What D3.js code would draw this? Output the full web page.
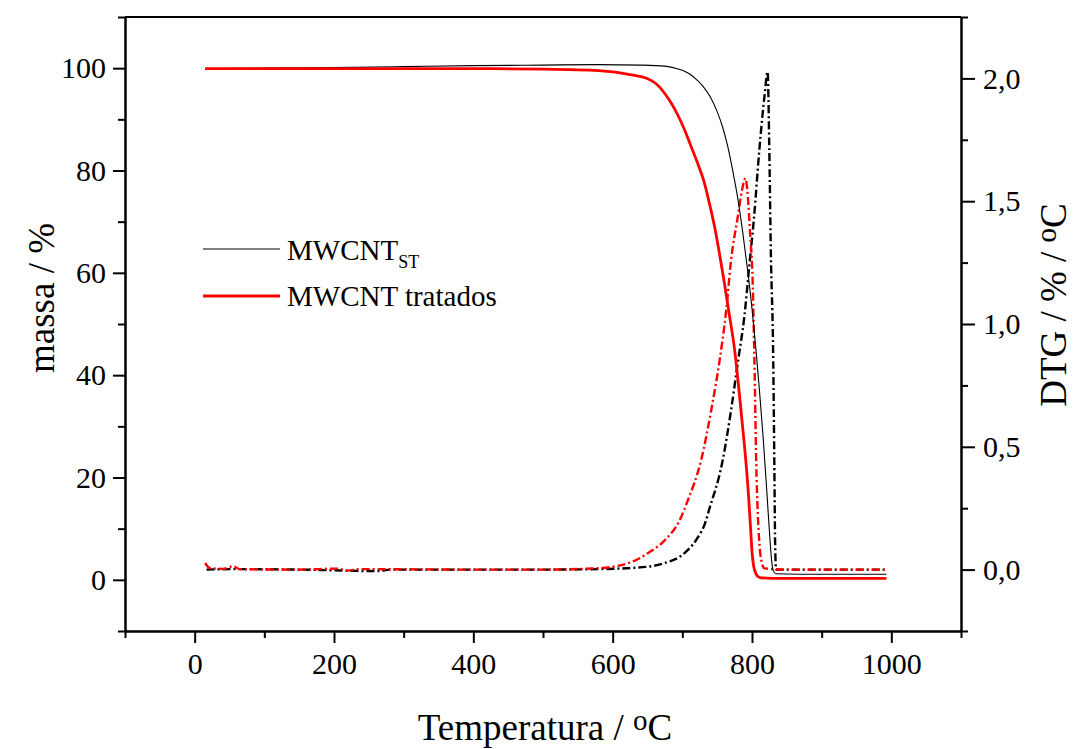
<!DOCTYPE html>
<html>
<head>
<meta charset="utf-8">
<script src="https://cdn.jsdelivr.net/npm/d3@7"></script>
<style>
	body { margin: 0; background: #fff; }
	text { font-family: "Liberation Serif", "Times New Roman", serif; fill: #000; }
</style>
</head>
<body>
<div id="plot"></div>
<script>
// data: [temperatura, value]
var stTGA = [[15,99.9],[100,100.0],[200,100.1],[300,100.3],[400,100.5],[500,100.6],[580,100.7],[640,100.6],
	[675,100.4],[690,100.0],[700,99.6],[710,98.9],[720,97.8],[730,96.4],[740,94.4],[750,91.5],[758,88.4],
	[765,84.8],[772,80.2],[780,74.2],[787,67.6],[794,60.2],[800,53.0],[806,44.5],[811,36.5],[816,27.8],
	[821,17.8],[825,9.5],[828,4.0],[830.5,1.8],[834,1.2],[900,1.1],[993,1.1]];
var tratTGA = [[15,99.9],[100,99.9],[200,99.9],[300,99.9],[400,99.9],[500,99.8],[580,99.5],[627,98.7],
	[651,97.9],[660,97.2],[668,96.2],[675,95.0],[684,93.2],[694,90.7],[703,88.0],[712,84.9],[722,81.4],
	[732,77.4],[739,73.5],[746,69.2],[753,64.0],[760,58.3],[767,52.2],[775,45.0],[781,37.5],[786,30.6],
	[791,23.5],[795,16.5],[798,10.0],[800,5.5],[802,3.0],[804,1.8],[808,0.7],[813,0.4],[830,0.3],[993,0.3]];
var stDTG = [[17,0.0],[60,0.002],[150,0.0],[265,-0.006],[280,0.0],[400,0.0],[500,0.0],[580,0.002],
	[651,0.012],[680,0.032],[695,0.05],[708,0.08],[722,0.13],[734,0.2],[737,0.23],[758,0.446],
	[770,0.65],[780,0.85],[789,1.03],[796,1.233],[803,1.437],[810.5,1.708],[818,1.93],[822.4,2.027],
	[824.8,1.72],[827,1.3],[830.5,0.85],[832,0.45],[833.2,0.107],[834.6,0.0],[900,0.0],[993,0.0]];
var tratDTG = [[15,0.027],[22,0.006],[40,0.003],[55,0.013],[65,0.002],[150,0.0],[205,0.004],[220,-0.004],
	[235,0.002],[400,0.0],[500,0.0],[580,0.006],[628,0.032],[651,0.068],[675,0.12],[696,0.2],[708,0.283],
	[727,0.446],[741.5,0.65],[753.4,0.85],[763,1.057],[770,1.261],[779.6,1.437],[786,1.55],[790.6,1.593],
	[794,1.52],[797,1.38],[801,1.166],[803.5,0.85],[806,0.446],[810.6,0.107],[814,0.03],[817.7,0.005],
	[850,0.0],[993,0.0]];

var xTicks = [0, 200, 400, 600, 800, 1000],
	xMinor = [-100, 100, 300, 500, 700, 900, 1100],
	yTicks = [0, 20, 40, 60, 80, 100],
	yMinor = [-10, 10, 30, 50, 70, 90, 110],
	y2Ticks = [0, 0.5, 1.0, 1.5, 2.0],
	y2Minor = [-0.25, 0.25, 0.75, 1.25, 1.75, 2.25];

var layout = {
	w: 1074,
	h: 749,
	left: 125,
	right: 961,
	top: 17,
	bottom: 631
}

var svg = d3.select("#plot")
			.append("svg")
			.attr("width", layout.w)
			.attr("height", layout.h);

var xScale = d3.scaleLinear().domain([-100, 1100]).range([layout.left, layout.right]),
	yScale = d3.scaleLinear().domain([-10, 110]).range([layout.bottom, layout.top]),
	y2Scale = d3.scaleLinear().domain([-0.25, 2.25]).range([layout.bottom, layout.top]);

var fmtComma = function(d){ return d3.format(".1f")(d).replace(".", ","); };

function styleAxis(g){
	g.select(".domain").attr("stroke-width", 2).attr("stroke", "#000");
	g.selectAll(".tick line").attr("stroke-width", 2).attr("stroke", "#000");
	g.selectAll(".tick text")
		.style("font-family", "Liberation Serif")
		.style("font-size", "30px");
}

// minor ticks first
svg.append("g")
	.attr("transform", "translate(0," + layout.bottom + ")")
	.call(d3.axisBottom(xScale).tickValues(xMinor).tickSize(7).tickSizeOuter(0).tickFormat(""))
	.call(styleAxis);
svg.append("g")
	.attr("transform", "translate(" + layout.left + ",0)")
	.call(d3.axisLeft(yScale).tickValues(yMinor).tickSize(7).tickSizeOuter(0).tickFormat(""))
	.call(styleAxis);
svg.append("g")
	.attr("transform", "translate(" + layout.right + ",0)")
	.call(d3.axisRight(y2Scale).tickValues(y2Minor).tickSize(7).tickSizeOuter(0).tickFormat(""))
	.call(styleAxis);

// major ticks
svg.append("g")
	.attr("transform", "translate(0," + layout.bottom + ")")
	.call(d3.axisBottom(xScale).tickValues(xTicks).tickSize(12).tickSizeOuter(0).tickPadding(10).tickFormat(d3.format("d")))
	.call(styleAxis);
svg.append("g")
	.attr("transform", "translate(" + layout.left + ",0)")
	.call(d3.axisLeft(yScale).tickValues(yTicks).tickSize(12).tickSizeOuter(0).tickPadding(7).tickFormat(d3.format("d")))
	.call(styleAxis);
svg.append("g")
	.attr("transform", "translate(" + layout.right + ",0)")
	.call(d3.axisRight(y2Scale).tickValues(y2Ticks).tickSize(14).tickSizeOuter(0).tickPadding(8).tickFormat(fmtComma))
	.call(styleAxis);

// top frame
svg.append("line")
	.attr("x1", layout.left).attr("x2", layout.right)
	.attr("y1", layout.top).attr("y2", layout.top)
	.style("stroke", "black")
	.style("stroke-width", 2);

var tgaLine = d3.line()
				.x(function(d){ return xScale(d[0]); })
				.y(function(d){ return yScale(d[1]); })
				.curve(d3.curveMonotoneX);
var dtgLine = d3.line()
				.x(function(d){ return xScale(d[0]); })
				.y(function(d){ return y2Scale(d[1]); })
				.curve(d3.curveMonotoneX);

var curves = svg.append("g").attr("class", "curves");

curves.append("path")
	.attr("d", dtgLine(stDTG))
	.style("fill", "none").style("stroke", "black")
	.style("stroke-width", 2.4).style("stroke-dasharray", "8,3,2,3");
curves.append("path")
	.attr("d", dtgLine(tratDTG))
	.style("fill", "none").style("stroke", "red")
	.style("stroke-width", 2.4).style("stroke-dasharray", "8,3,2,3");
curves.append("path")
	.attr("d", tgaLine(stTGA))
	.style("fill", "none").style("stroke", "black")
	.style("stroke-width", 1.1);
curves.append("path")
	.attr("d", tgaLine(tratTGA))
	.style("fill", "none").style("stroke", "red")
	.style("stroke-width", 2.8);

// legend
var legend = svg.append("g").attr("class", "legend");
legend.append("line")
	.attr("x1", 203).attr("x2", 280).attr("y1", 249).attr("y2", 249)
	.style("stroke", "black").style("stroke-width", 1.1);
var t1 = legend.append("text")
	.attr("x", 287).attr("y", 260)
	.style("font-size", "29px");
t1.append("tspan").text("MWCNT");
t1.append("tspan").attr("dy", 8).style("font-size", "18px").text("ST");
legend.append("line")
	.attr("x1", 203).attr("x2", 280).attr("y1", 296).attr("y2", 296)
	.style("stroke", "red").style("stroke-width", 2.8);
legend.append("text")
	.attr("x", 287).attr("y", 306)
	.style("font-size", "29px")
	.text("MWCNT tratados");

// axis titles
var xt = svg.append("text")
	.attr("x", 545).attr("y", 740)
	.attr("text-anchor", "middle")
	.style("font-size", "37px");
xt.append("tspan").text("Temperatura / ");
xt.append("tspan").attr("dy", -10).style("font-size", "29px").text("o");
xt.append("tspan").attr("dy", 10).text("C");

svg.append("text")
	.attr("transform", "translate(54,298) rotate(-90)")
	.attr("text-anchor", "middle")
	.style("font-size", "37px")
	.text("massa / %");

var yt = svg.append("text")
	.attr("transform", "translate(1066,305) rotate(-90)")
	.attr("text-anchor", "middle")
	.style("font-size", "37px");
yt.append("tspan").text("DTG / % / ");
yt.append("tspan").attr("dy", -10).style("font-size", "29px").text("o");
yt.append("tspan").attr("dy", 10).text("C");
</script>
</body>
</html>
